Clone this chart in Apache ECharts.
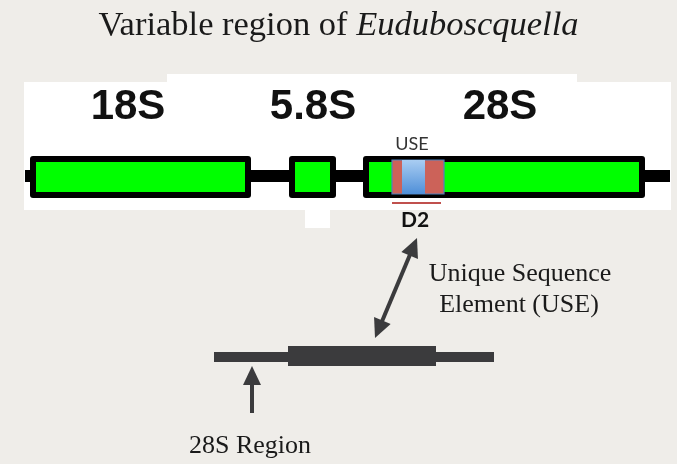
<!DOCTYPE html>
<html>
<head>
<meta charset="utf-8">
<script src="https://cdn.jsdelivr.net/npm/echarts@6/dist/echarts.min.js"></script>
<style>
  html, body { margin: 0; padding: 0; background: #efede9; }
  #main { width: 677px; height: 464px; }
</style>
</head>
<body>
<div id="main"></div>
<script>
// diagram space: x along the rDNA locus, y top-down (both in axis units)
const panels = [[24, 82, 671, 210], [167, 74, 577, 82], [305, 210, 330, 228]];
const backbone = [[25, 670, 176]];
const geneNames = ['18S', '5.8S', '28S'];
const geneFrom = [30, 289, 363];
const geneTo = [251, 336, 645];
const geneTop = 156, geneBottom = 198;
const geneLabelX = [128, 313, 500];
const geneLabelY = 107;
// USE insert inside 28S: outer [from,to], core [from,to]
const useOuter = [392, 444];
const useCore = [402, 425];
const useTop = 160, useBottom = 194;
const d2Line = [392, 441, 203];
// lower schematic of the 28S region: from, to, centre, half thickness
const regionParts = [[214, 288, 357, 5], [436, 494, 357, 5], [288, 436, 356, 10]];
// arrows: x1, y1 (tail), x2, y2 (tip), double-headed
const arrows = [[252, 413, 252, 366, 0], [375, 338, 417, 238, 1]];
const noteText = ['USE', 'D2', 'Unique Sequence', 'Element (USE)', '28S Region'];
const noteX = [412, 415, 520, 519, 250];
const noteY = [144, 220, 274, 305, 446];

const dark = '#3b3b3d';

function pt(api, x, y) { return api.coord([x, y]); }

function rectEl(api, x0, y0, x1, y1, style, r) {
  const a = pt(api, x0, y0), b = pt(api, x1, y1);
  return { type: 'rect', shape: { x: a[0], y: a[1], width: b[0] - a[0], height: b[1] - a[1], r: r || 0 }, style: style };
}

const chart = echarts.init(document.getElementById('main'));

const option = {
  backgroundColor: '#efede9',
  animation: false,
  title: {
    text: '{a|Variable region of }{b|Euduboscquella}',
    left: 'center',
    top: 3,
    textStyle: {
      rich: {
        a: { fontFamily: 'Liberation Serif', fontWeight: 'normal', fontSize: 34.5, color: '#1a1a1a' },
        b: { fontFamily: 'Liberation Serif', fontWeight: 'normal', fontStyle: 'italic', fontSize: 34.5, color: '#1a1a1a' }
      }
    }
  },
  grid: { left: 0, right: 0, top: 0, bottom: 0 },
  xAxis: { type: 'value', min: 0, max: 677, show: false },
  yAxis: { type: 'value', min: 0, max: 464, inverse: true, show: false },
  series: [
    {
      type: 'custom', silent: true, data: panels,
      renderItem: (params, api) => rectEl(api, api.value(0), api.value(1), api.value(2), api.value(3), { fill: '#ffffff' })
    },
    {
      type: 'custom', silent: true, data: backbone,
      renderItem: (params, api) => rectEl(api, api.value(0), api.value(2) - 6, api.value(1), api.value(2) + 6, { fill: '#000' })
    },
    {
      type: 'custom', silent: true,
      data: geneNames.map((n, i) => [geneFrom[i], geneTo[i]]),
      renderItem: (params, api) => ({
        type: 'group',
        children: [
          rectEl(api, api.value(0), geneTop, api.value(1), geneBottom, { fill: '#000' }, 3),
          rectEl(api, api.value(0) + 6, geneTop + 6, api.value(1) - 6, geneBottom - 6, { fill: '#00ff00' })
        ]
      })
    },
    {
      type: 'custom', silent: true, data: [[useOuter[0], useOuter[1], useCore[0], useCore[1]]],
      renderItem: (params, api) => ({
        type: 'group',
        children: [
          rectEl(api, api.value(0), useTop, api.value(1), useBottom, { fill: '#cc6259', stroke: '#4f81bd', lineWidth: 1.2 }),
          rectEl(api, api.value(2), useTop, api.value(3), useBottom, {
            fill: new echarts.graphic.LinearGradient(0, 0, 0, 1, [
              { offset: 0, color: '#a9cdf2' }, { offset: 1, color: '#4f8fd8' }
            ])
          })
        ]
      })
    },
    {
      type: 'custom', silent: true, data: [d2Line],
      renderItem: (params, api) => rectEl(api, api.value(0), api.value(2) - 1, api.value(1), api.value(2) + 1, { fill: '#c0504d' })
    },
    {
      type: 'custom', silent: true, data: regionParts,
      renderItem: (params, api) => {
        const h = api.value(3);
        return rectEl(api, api.value(0), api.value(2) - h, api.value(1), api.value(2) + h, { fill: dark });
      }
    },
    {
      type: 'custom', silent: true, data: arrows,
      renderItem: (params, api) => {
        const a = pt(api, api.value(0), api.value(1));
        const b = pt(api, api.value(2), api.value(3));
        const dx = b[0] - a[0], dy = b[1] - a[1];
        const len = Math.sqrt(dx * dx + dy * dy);
        const ux = dx / len, uy = dy / len;
        const hl = 19, hw = 9;
        const head = (tip, sx, sy) => {
          const bx = tip[0] - sx * hl, by = tip[1] - sy * hl;
          return {
            type: 'polygon',
            shape: { points: [tip, [bx - sy * hw, by + sx * hw], [bx + sy * hw, by - sx * hw]] },
            style: { fill: dark }
          };
        };
        const dbl = api.value(4);
        const s = dbl ? [a[0] + ux * hl * 0.9, a[1] + uy * hl * 0.9] : a;
        const e = [b[0] - ux * hl * 0.9, b[1] - uy * hl * 0.9];
        const kids = [
          { type: 'line', shape: { x1: s[0], y1: s[1], x2: e[0], y2: e[1] }, style: { stroke: dark, lineWidth: 4 } },
          head(b, ux, uy)
        ];
        if (dbl) kids.push(head(a, -ux, -uy));
        return { type: 'group', children: kids };
      }
    },
    {
      type: 'custom', silent: true,
      data: geneNames.map((n, i) => [geneLabelX[i], geneLabelY]),
      renderItem: (params, api) => {
        const p = pt(api, api.value(0), api.value(1));
        return {
          type: 'text', x: p[0], y: p[1],
          style: { text: geneNames[params.dataIndex], fontFamily: 'Liberation Sans', fontWeight: 'bold', fontSize: 42, fill: '#111', align: 'center', verticalAlign: 'middle' }
        };
      }
    },
    {
      type: 'custom', silent: true,
      data: noteText.map((t, i) => [noteX[i], noteY[i]]),
      renderItem: (params, api) => {
        const t = noteText[params.dataIndex];
        const p = pt(api, api.value(0), api.value(1));
        let st;
        if (t === 'USE') st = { fontFamily: 'Lato', fontSize: 18, fill: '#333' };
        else if (t === 'D2') st = { fontFamily: 'Lato', fontWeight: 'bold', fontSize: 21, fill: '#111' };
        else st = { fontFamily: 'Liberation Serif', fontSize: 26, fill: '#1a1a1a' };
        return {
          type: 'text', x: p[0], y: p[1],
          style: Object.assign({ text: t, align: 'center', verticalAlign: 'middle' }, st)
        };
      }
    }
  ]
};

chart.setOption(option);
</script>
</body>
</html>
